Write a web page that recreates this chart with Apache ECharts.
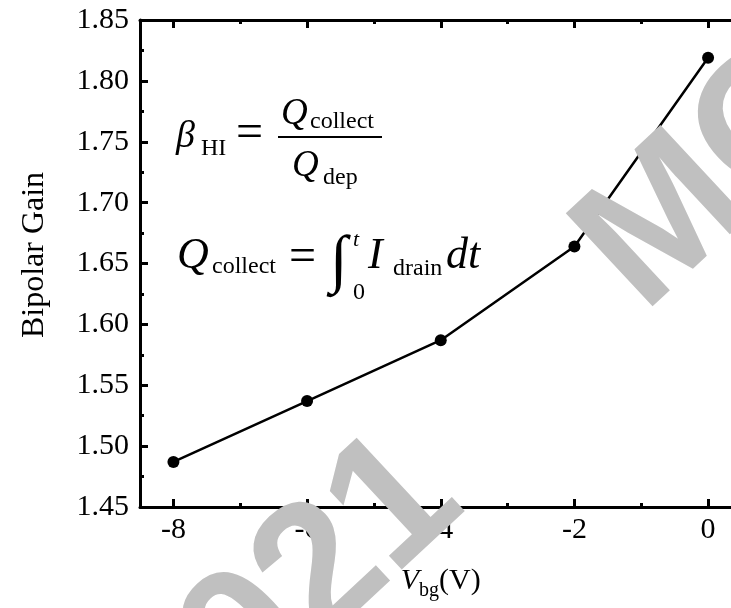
<!DOCTYPE html>
<html>
<head>
<meta charset="utf-8">
<script src="https://cdn.jsdelivr.net/npm/echarts@6/dist/echarts.min.js"></script>
<style>
html, body { margin: 0; padding: 0; background: #fff; }
#chart { width: 731px; height: 608px; }
</style>
</head>
<body>
<div id="chart"></div>
<script>
// data
const vbg = [-8, -6, -4, -2, 0];
const gain = [1.487, 1.537, 1.587, 1.664, 1.819];
const xMajorTicks = [-8, -6, -4, -2, 0];
const xMinorTicks = [-7, -5, -3, -1];

const serif = 'Liberation Serif';
const chart = echarts.init(document.getElementById('chart'));

// one piece of formula text, placed by its baseline
function txt(str, x, base, size, italic) {
  return {
    type: 'text',
    z: 50,
    style: {
      text: str,
      x: x,
      y: base - 0.34 * size,
      align: 'left',
      verticalAlign: 'middle',
      fontFamily: serif,
      fontSize: size,
      fontStyle: italic ? 'italic' : 'normal',
      fill: '#000'
    }
  };
}

// grey watermark letters, tilted 43 degrees
function mark(ch, x, y) {
  return {
    type: 'text',
    z: 100,
    x: x,
    y: y,
    rotation: 43 * Math.PI / 180,
    style: {
      text: ch,
      fontFamily: 'Liberation Sans',
      fontWeight: 'bold',
      fontSize: 185,
      fill: '#c0c0c0',
      align: 'center',
      verticalAlign: 'middle'
    }
  };
}

const baseX = {
  type: 'value',
  min: -8.5,
  max: 0.5,
  splitLine: { show: false },
  axisLine: { show: false },
  axisLabel: { show: false },
  axisTick: { show: false }
};

const option = {
  animation: false,
  backgroundColor: '#fff',
  grid: {
    left: 140,
    top: 20,
    right: -10.5,
    bottom: 101,
    containLabel: false,
    outerBoundsMode: 'none'
  },
  xAxis: [
    Object.assign({}, baseX, {
      position: 'bottom',
      axisLine: { show: true, onZero: false, lineStyle: { color: '#000', width: 3 } },
      axisTick: { show: true, inside: true, length: 8, customValues: xMajorTicks, lineStyle: { color: '#000', width: 3 } },
      axisLabel: { show: true, customValues: xMajorTicks, margin: 8, color: '#000', fontSize: 30, fontFamily: serif },
      name: '{i|V}{s|bg}{n|(V)}',
      nameLocation: 'middle',
      nameGap: 54,
      nameTextStyle: {
        rich: {
          i: { fontFamily: serif, fontSize: 30, fontStyle: 'italic', color: '#000' },
          s: { fontFamily: serif, fontSize: 20, color: '#000', padding: [20, 0, 0, 0] },
          n: { fontFamily: serif, fontSize: 30, color: '#000' }
        }
      }
    }),
    Object.assign({}, baseX, {
      position: 'bottom',
      axisTick: { show: true, inside: true, length: 4, customValues: xMinorTicks, lineStyle: { color: '#000', width: 3 } }
    }),
    Object.assign({}, baseX, {
      position: 'top',
      axisLine: { show: true, onZero: false, lineStyle: { color: '#000', width: 3 } },
      axisTick: { show: true, inside: true, length: 8, customValues: xMajorTicks, lineStyle: { color: '#000', width: 3 } }
    }),
    Object.assign({}, baseX, {
      position: 'top',
      axisTick: { show: true, inside: true, length: 4, customValues: xMinorTicks, lineStyle: { color: '#000', width: 3 } }
    })
  ],
  yAxis: {
    type: 'value',
    min: 1.45,
    max: 1.85,
    interval: 0.05,
    splitLine: { show: false },
    axisLine: { show: true, onZero: false, lineStyle: { color: '#000', width: 3 } },
    axisTick: { inside: true, length: 8, lineStyle: { color: '#000', width: 3 } },
    minorTick: { show: true, splitNumber: 2, length: 4, lineStyle: { color: '#000', width: 3 } },
    axisLabel: {
      margin: 11,
      color: '#000',
      fontSize: 30,
      fontFamily: serif,
      formatter: v => v.toFixed(2)
    },
    name: 'Bipolar Gain',
    nameLocation: 'middle',
    nameGap: 89,
    nameTextStyle: { fontFamily: serif, fontSize: 32, color: '#000', padding: [0, 0, 0, 17] }
  },
  series: [
    {
      type: 'line',
      data: vbg.map((v, i) => [v, gain[i]]),
      symbol: 'circle',
      symbolSize: 12,
      itemStyle: { color: '#000' },
      lineStyle: { color: '#000', width: 2.5 },
      z: 5
    }
  ],
  graphic: [
    // beta_HI = Q_collect / Q_dep
    txt('\u03B2', 176, 150, 38, true),
    txt('HI', 201, 157, 24, false),
    txt('=', 236, 151, 48, false),
    txt('Q', 281, 127, 37, true),
    txt('collect', 310, 130, 24, false),
    {
      type: 'line', z: 50,
      shape: { x1: 278, y1: 137, x2: 382, y2: 137 },
      style: { stroke: '#000', lineWidth: 2 }
    },
    txt('Q', 292, 179, 37, true),
    txt('dep', 323, 186, 24, false),
    // Q_collect = int_0^t I_drain dt
    txt('Q', 177, 271, 44, true),
    txt('collect', 212, 275, 24, false),
    txt('=', 289, 275, 48, false),
    txt('\u222B', 330, 285, 64, false),
    txt('t', 353, 248, 22, true),
    txt('0', 353, 301, 24, false),
    txt('I', 368, 271, 44, true),
    txt('drain', 393, 277, 24, false),
    txt('dt', 446, 271, 44, true),
    // watermark
    mark('2', 177, 709),
    mark('0', 250, 641),
    mark('2', 323, 573),
    mark('1', 396, 505),
    mark('M', 665, 225),
    mark('O', 774, 123)
  ]
};

chart.setOption(option);
</script>
</body>
</html>
